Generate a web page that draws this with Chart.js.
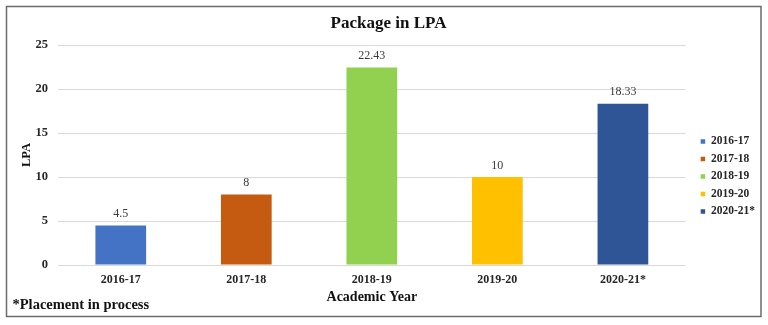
<!DOCTYPE html>
<html>
<head>
<meta charset="utf-8">
<script src="https://cdn.jsdelivr.net/npm/chart.js@4/dist/chart.umd.min.js"></script>
<style>
html,body{margin:0;padding:0;background:#fff;}
#wrap{width:768px;height:325px;position:relative;}
canvas{display:block;}
</style>
</head>
<body>
<div id="wrap"><canvas id="c" width="768" height="325"></canvas></div>
<script>
const categories = ['2016-17', '2017-18', '2018-19', '2019-20', '2020-21*'];
const packageLPA = [4.5, 8, 22.43, 10, 18.33];
const valueLabels = ['4.5', '8', '22.43', '10', '18.33'];
const yTicks = [0, 5, 10, 15, 20, 25];
const barColors = ['#4472C4', '#C55A11', '#92D050', '#FFC000', '#2F5597'];
const chartTitle = 'Package in LPA';
const xTitle = 'Academic Year';
const yTitle = 'LPA';
const footnote = '*Placement in process';

const SERIF = '"Liberation Serif", "Times New Roman", serif';

const valueLabelPlugin = {
  id: 'valueLabels',
  afterDatasetsDraw(chart) {
    const ctx = chart.ctx;
    const meta = chart.getDatasetMeta(0);
    ctx.save();
    ctx.font = '12px ' + SERIF;
    ctx.fillStyle = '#3a3a3a';
    ctx.textAlign = 'center';
    ctx.textBaseline = 'middle';
    meta.data.forEach((bar, i) => {
      ctx.fillText(valueLabels[i], bar.x, bar.y - 11.5);
    });
    ctx.restore();
  }
};

const framePlugin = {
  id: 'frame',
  beforeDraw(chart) {
    const ctx = chart.ctx;
    ctx.save();
    ctx.fillStyle = '#ffffff';
    ctx.fillRect(0, 0, chart.width, chart.height);
    ctx.restore();
  },
  afterDraw(chart) {
    const ctx = chart.ctx;
    ctx.save();
    ctx.strokeStyle = '#6b6b6b';
    ctx.lineWidth = 1.5;
    ctx.strokeRect(6.5, 6.5, 754.5, 310);
    ctx.font = 'bold 14.5px ' + SERIF;
    ctx.fillStyle = '#111111';
    ctx.textAlign = 'left';
    ctx.textBaseline = 'middle';
    ctx.fillText(footnote, 12.5, 305);
    ctx.restore();
  }
};

new Chart(document.getElementById('c'), {
  type: 'bar',
  data: {
    labels: categories,
    datasets: [{
      label: 'LPA',
      data: packageLPA,
      backgroundColor: barColors,
      borderWidth: 0,
      categoryPercentage: 1.0,
      barPercentage: 0.404
    }]
  },
  options: {
    responsive: false,
    devicePixelRatio: 1,
    animation: false,
    layout: { padding: { top: 13.5, left: 12, right: 3, bottom: 15 } },
    plugins: {
      title: {
        display: true,
        text: chartTitle,
        color: '#111111',
        font: { family: SERIF, size: 17, weight: 'bold' },
        padding: { top: 0, bottom: 11.1 }
      },
      legend: {
        display: true,
        position: 'right',
        fullSize: false,
        onClick: null,
        title: { display: true, text: '', font: { size: 10 }, padding: { top: 30.8, bottom: 0 } },
        labels: {
          boxWidth: 4.5,
          boxHeight: 4.5,
          padding: 6,
          color: '#262626',
          font: { family: SERIF, size: 11.5, weight: 'bold' },
          generateLabels() {
            return categories.map((c, i) => ({
              text: c,
              fillStyle: barColors[i],
              strokeStyle: barColors[i],
              lineWidth: 0,
              hidden: false,
              index: i,
              fontColor: '#262626'
            }));
          }
        }
      },
      tooltip: { enabled: false }
    },
    scales: {
      x: {
        afterFit(scale) { scale.height = 45; },
        grid: { display: false, drawTicks: false },
        border: { display: false },
        ticks: {
          padding: 8,
          maxRotation: 0,
          color: '#262626',
          font: { family: SERIF, size: 12, weight: 'bold' }
        },
        title: {
          display: true,
          text: xTitle,
          color: '#111111',
          font: { family: SERIF, size: 14, weight: 'bold' },
          padding: { top: 2, bottom: 4 }
        }
      },
      y: {
        min: 0,
        max: 25,
        afterBuildTicks(scale) { scale.ticks = yTicks.map(v => ({ value: v })); },
        afterFit(scale) { scale.width = 46; },
        grid: { color: '#d9d9d9', lineWidth: 1, drawTicks: false },
        border: { display: false },
        ticks: {
          padding: 10,
          color: '#262626',
          font: { family: SERIF, size: 12.5, weight: 'bold' }
        },
        title: {
          display: true,
          text: yTitle,
          color: '#111111',
          font: { family: SERIF, size: 12.5, weight: 'bold' },
          padding: { top: 7, bottom: 4 }
        }
      },
      ySpacer: {
        type: 'linear',
        position: 'right',
        display: true,
        afterFit(scale) { scale.width = 9; },
        grid: { display: false, drawTicks: false },
        border: { display: false },
        ticks: { display: false },
        title: { display: false }
      }
    }
  },
  plugins: [valueLabelPlugin, framePlugin]
});
</script>
</body>
</html>
